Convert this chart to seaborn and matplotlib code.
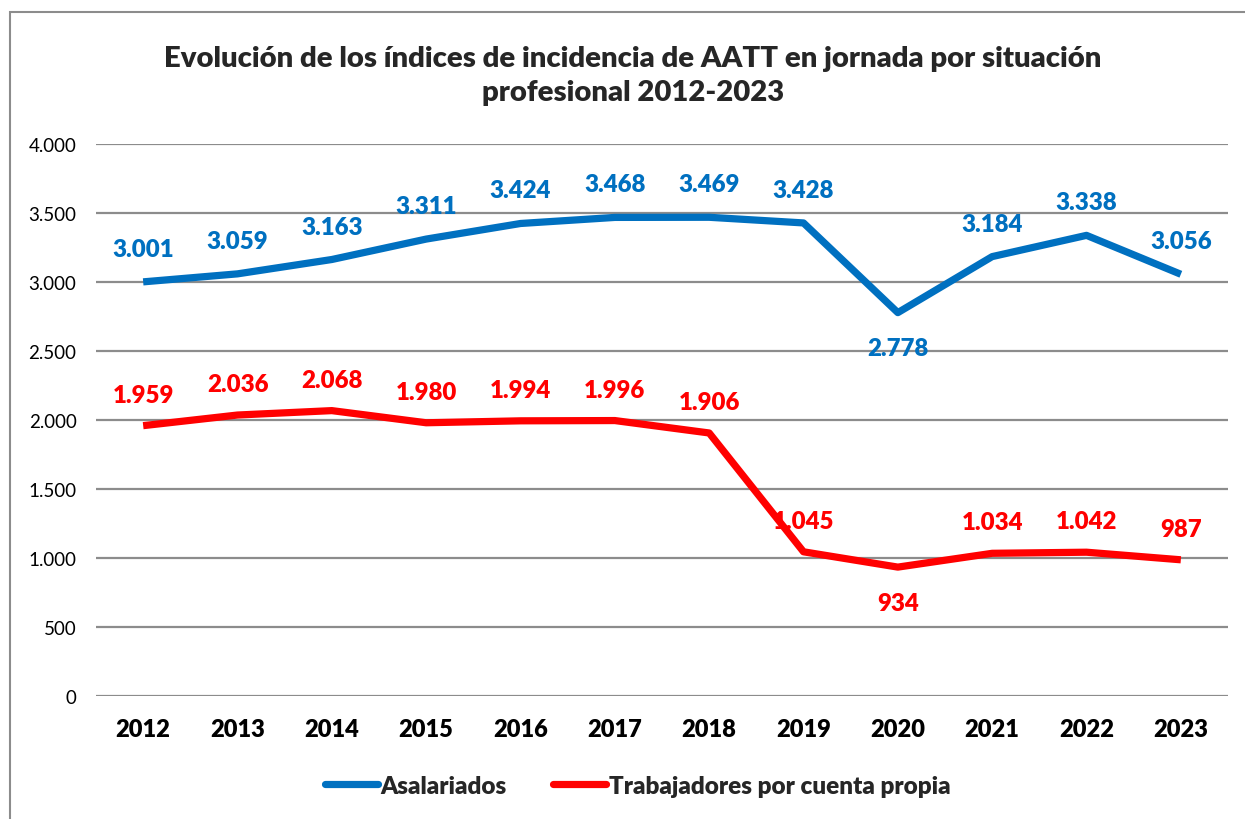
import matplotlib
matplotlib.use("Agg")
import matplotlib.pyplot as plt
import seaborn as sns
import pandas as pd
from matplotlib.patches import Rectangle
from matplotlib.lines import Line2D

years = ["2012", "2013", "2014", "2015", "2016", "2017", "2018", "2019", "2020", "2021", "2022", "2023"]
asalariados = [3001, 3059, 3163, 3311, 3424, 3468, 3469, 3428, 2778, 3184, 3338, 3056]
cuenta_propia = [1959, 2036, 2068, 1980, 1994, 1996, 1906, 1045, 934, 1034, 1042, 987]
series_names = ["Asalariados", "Trabajadores por cuenta propia"]
yticks = [0, 500, 1000, 1500, 2000, 2500, 3000, 3500, 4000]
title = "Evolución de los índices de incidencia de AATT en jornada por situación\nprofesional 2012-2023"

BLUE = "#0070C0"
RED = "#FF0000"
W = "heavy"

sns.set_style("white")
plt.rcParams['font.family'] = ['Lato', 'DejaVu Sans']

def fmt(v):
    return f"{v:,}".replace(",", ".")

df = pd.DataFrame({
    "x": list(range(len(years))) * 2,
    "year": years * 2,
    "value": asalariados + cuenta_propia,
    "serie": [series_names[0]] * len(years) + [series_names[1]] * len(years),
})

fig = plt.figure(figsize=(12.45, 8.2), dpi=100)
ax = fig.add_axes([96 / 1245, 1 - 697 / 820, (1228 - 96) / 1245, (697 - 145) / 820])

# outer chart frame
fig.patches.append(Rectangle((10 / 1245, -0.05), 1.2, 1 - 13 / 820 + 0.05, transform=fig.transFigure,
                             fill=False, edgecolor="#8c8c8c", linewidth=1.5, zorder=0))

sns.lineplot(data=df, x="x", y="value", hue="serie", palette=[BLUE, RED], linewidth=5.2,
             ax=ax, legend=False, sort=False)
for l in ax.lines:
    l.set_solid_joinstyle("round")
    l.set_solid_capstyle("butt")

ax.set_ylim(0, 4000)
ax.set_xlim(-0.5, len(years) - 0.5)
ax.set_yticks(yticks)
ax.set_yticklabels([fmt(v) for v in yticks], fontsize=13.5, color="black")
ax.set_xticks(range(len(years)))
ax.set_xticklabels(years, fontsize=17, fontweight=W, color="black")
ax.tick_params(axis="y", length=0, pad=14)
ax.tick_params(axis="x", length=0, pad=16)
ax.grid(axis="y", color="#8c8c8c", linewidth=1.6)
ax.set_axisbelow(True)
for s in ax.spines.values():
    s.set_visible(False)
ax.set_xlabel("")
ax.set_ylabel("")

below_blue = {"2020"}
below_red = {"2020"}
for i, (y, v) in enumerate(zip(years, asalariados)):
    off = -35 if y in below_blue else 33
    ax.annotate(fmt(v), (i, v), xytext=(0, off), textcoords="offset pixels",
                ha="center", va="center", fontsize=17.3, fontweight=W, color=BLUE)
for i, (y, v) in enumerate(zip(years, cuenta_propia)):
    off = -36 if y in below_red else 31
    ax.annotate(fmt(v), (i, v), xytext=(0, off), textcoords="offset pixels",
                ha="center", va="center", fontsize=17.3, fontweight=W, color=RED)

fig.text(0.5 * (163 + 1103) / 1245, 1 - 76 / 820, title, ha="center", va="center",
         fontsize=21.1, fontweight=W, linespacing=1.35)

handles = [Line2D([0], [0], color=BLUE, linewidth=5.2, solid_capstyle="round"),
           Line2D([0], [0], color=RED, linewidth=5.2, solid_capstyle="round")]
fig.legend(handles, series_names, loc="center", bbox_to_anchor=(0.5 * (318 + 957) / 1245, 1 - 787 / 820),
           ncol=2, frameon=False, prop={"size": 17.5, "weight": W}, handlelength=2.2,
           handletextpad=0.1, columnspacing=1.9)

fig.savefig("out.png", dpi=100)
